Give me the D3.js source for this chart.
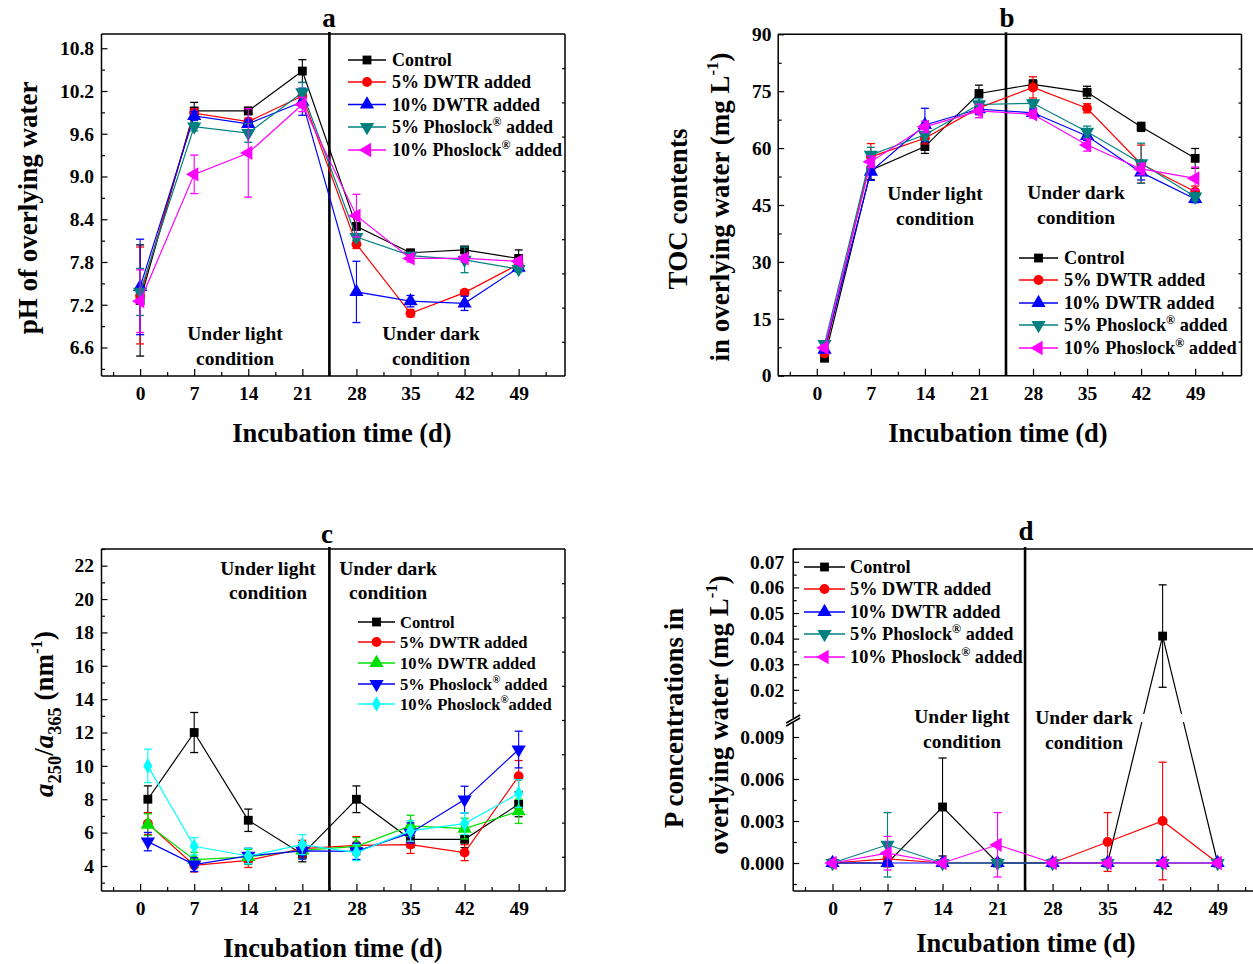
<!DOCTYPE html>
<html>
<head>
<meta charset="utf-8">
<script src="https://cdn.jsdelivr.net/npm/d3@7"></script>
<style>
  body { margin: 0; background: #fff; }
  svg { display: block; }
  text { font-family: "Liberation Serif", "Times New Roman", serif; font-weight: bold; fill: #000; white-space: pre; }
</style>
</head>
<body>
<svg id="fig" width="1253" height="964"></svg>
<script>
// ---------- shared sampling days and labels ----------
const days = [0, 7, 14, 21, 28, 35, 42, 49];
const daysFirstAt1 = [1, 7, 14, 21, 28, 35, 42, 49];
const xTickLabels = ["0", "7", "14", "21", "28", "35", "42", "49"];
const treatmentNames = ["Control", "5% DWTR added", "10% DWTR added", "5% Phoslock® added", "10% Phoslock® added"];
const treatmentNamesC = ["Control", "5% DWTR added", "10% DWTR added", "5% Phoslock® added", "10% Phoslock®added"];

// ---------- (a) pH of overlying water ----------
const phTicks = [6.6, 7.2, 7.8, 8.4, 9.0, 9.6, 10.2, 10.8];
const phControl = [7.26, 9.92, 9.92, 10.48, 8.30, 7.93, 7.97, 7.85];
const phControlErr = [0.78, 0.12, 0.05, 0.16, 0.05, 0.03, 0.03, 0.12];
const phDwtr5 = [7.33, 9.89, 9.77, 10.13, 8.05, 7.08, 7.37, 7.77];
const phDwtr5Err = [0.68, 0.06, 0.05, 0.06, 0.06, 0.05, 0.04, 0.04];
const phDwtr10 = [7.45, 9.85, 9.74, 10.05, 7.38, 7.25, 7.22, 7.72];
const phDwtr10Err = [0.67, 0.06, 0.05, 0.19, 0.43, 0.08, 0.10, 0.04];
const phPhos5 = [7.38, 9.70, 9.61, 10.18, 8.15, 7.89, 7.83, 7.70];
const phPhos5Err = [0.33, 0.06, 0.13, 0.14, 0.05, 0.04, 0.18, 0.04];
const phPhos10 = [7.25, 9.03, 9.33, 10.01, 8.45, 7.85, 7.85, 7.81];
const phPhos10Err = [0.44, 0.27, 0.62, 0.10, 0.30, 0.05, 0.05, 0.04];

// ---------- (b) TOC contents ----------
const tocTicks = [0, 15, 30, 45, 60, 75, 90];
const tocControl = [4.6, 54.2, 60.4, 74.4, 76.8, 74.7, 65.6, 57.3];
const tocControlErr = [0.6, 2.5, 1.8, 2.2, 1.2, 1.6, 1.2, 2.6];
const tocDwtr5 = [5.9, 57.7, 62.6, 70.6, 76.0, 70.5, 55.8, 48.5];
const tocDwtr5Err = [0.8, 3.5, 1.5, 1.5, 2.8, 1.2, 5.0, 1.5];
const tocDwtr10 = [6.9, 53.8, 66.1, 70.3, 69.3, 63.2, 53.6, 46.6];
const tocDwtr10Err = [0.8, 2.3, 4.4, 1.5, 1.0, 1.2, 2.0, 1.0];
const tocPhos5 = [8.3, 58.2, 63.5, 71.5, 71.8, 64.3, 56.0, 47.2];
const tocPhos5Err = [0.8, 2.0, 1.5, 1.5, 1.0, 1.5, 5.3, 1.0];
const tocPhos10 = [7.4, 56.4, 65.6, 69.8, 68.9, 60.8, 54.5, 52.0];
const tocPhos10Err = [0.8, 1.5, 1.5, 1.8, 1.0, 1.6, 1.5, 3.0];

// ---------- (c) a250/a365 ----------
const ratioTicks = [4, 6, 8, 10, 12, 14, 16, 18, 20, 22];
const ratioControl = [8.0, 12.0, 6.74, 4.7, 8.0, 5.6, 5.6, 7.7];
const ratioControlErr = [0.8, 1.2, 0.67, 0.45, 0.8, 0.5, 0.5, 0.75];
const ratioDwtr5 = [6.54, 4.04, 4.34, 5.04, 5.24, 5.28, 4.8, 9.38];
const ratioDwtr5Err = [0.65, 0.4, 0.43, 0.5, 0.52, 0.53, 0.48, 0.94];
const ratioDwtr10 = [6.48, 4.38, 4.54, 4.94, 5.18, 6.4, 6.24, 7.28];
const ratioDwtr10Err = [0.65, 0.44, 0.45, 0.5, 0.52, 0.64, 0.62, 0.73];
const ratioPhos5 = [5.46, 4.08, 4.6, 4.9, 4.88, 5.98, 7.98, 10.98];
const ratioPhos5Err = [0.55, 0.41, 0.46, 0.49, 0.49, 0.6, 0.8, 1.1];
const ratioPhos10 = [10.0, 5.18, 4.6, 5.28, 4.8, 6.1, 6.54, 8.34];
const ratioPhos10Err = [1.0, 0.52, 0.46, 0.6, 0.48, 0.61, 0.65, 0.83];

// ---------- (d) P concentrations ----------
const pTicksLow = [0.000, 0.003, 0.006, 0.009];
const pTicksHigh = [0.02, 0.03, 0.04, 0.05, 0.06, 0.07];
const pControl = [0, 0, 0.004, 0, 0, 0, 0.041, 0];
const pControlErr = [0, 0, 0.0035, 0, 0, 0, 0.020, 0];
const pDwtr5 = [0, 0.0003, 0, 0, 0, 0.0015, 0.003, 0];
const pDwtr5Err = [0, 0.0005, 0, 0, 0, 0.0021, 0.0042, 0];
const pDwtr10 = [0, 0, 0, 0, 0, 0, 0, 0];
const pDwtr10Err = [0, 0, 0, 0, 0, 0, 0, 0];
const pPhos5 = [0, 0.0013, 0, 0, 0, 0, 0, 0];
const pPhos5Err = [0, 0.0023, 0, 0, 0, 0, 0, 0];
const pPhos10 = [0, 0.0007, 0, 0.0013, 0, 0, 0, 0];
const pPhos10Err = [0, 0.0012, 0, 0.0023, 0, 0, 0, 0];

// ---------- styling ----------
const stylesABD = [
  { color: "#000000", shape: "square" },
  { color: "#ff0000", shape: "circle" },
  { color: "#0000ff", shape: "up" },
  { color: "#008080", shape: "down" },
  { color: "#ff00ff", shape: "left" }
];
const stylesC = [
  { color: "#000000", shape: "square" },
  { color: "#ff0000", shape: "circle" },
  { color: "#00e000", shape: "up" },
  { color: "#0000ff", shape: "down" },
  { color: "#00ffff", shape: "diamond" }
];

const svg = d3.select("#fig");
const TICK_FS = 19.5;

const symbolTypes = {
  square: d3.symbolSquare, circle: d3.symbolCircle, up: d3.symbolTriangle,
  down: d3.symbolTriangle, left: d3.symbolTriangle, diamond: d3.symbolDiamond
};
const symbolSizes = { square: 78, circle: 76, up: 88, down: 88, left: 88, diamond: 70 };
const symbolRot = { down: 180, left: -90 };

function marker(g, shape, cx, cy, color) {
  g.append("path")
    .attr("d", d3.symbol(symbolTypes[shape], symbolSizes[shape])())
    .attr("transform", `translate(${cx},${cy}) rotate(${symbolRot[shape] || 0})`)
    .attr("fill", color);
}

// text with a raised ® sign
function richText(t, name, fs) {
  const parts = name.split("®");
  t.append("tspan").text(parts[0]);
  if (parts.length > 1) {
    t.append("tspan").attr("font-size", fs * 0.66).attr("dy", -fs * 0.42).text("®");
    t.append("tspan").attr("dy", fs * 0.42).text(parts[1]);
  }
}

function styleAxis(sel, fs) {
  sel.select(".domain").remove();
  sel.selectAll("line").attr("stroke", "#000").attr("stroke-width", 1.2);
  sel.selectAll("text")
    .attr("font-family", '"Liberation Serif", "Times New Roman", serif')
    .attr("font-weight", "bold")
    .attr("font-size", fs)
    .attr("fill", "#000");
  sel.attr("font-size", null).attr("font-family", null);
}

function makePanel(o) {
  const g = svg.append("g");
  const x = d3.scaleLinear().domain([-5, 55]).range(o.xRange);
  const [L, R] = o.xRange;
  const yv = o.y;

  // bottom axis, ticks pointing inward
  const xa = g.append("g").attr("transform", `translate(0,${o.bottom})`)
    .call(d3.axisBottom(x).tickValues(days).tickFormat((d, i) => xTickLabels[i])
      .tickSize(-7).tickPadding(10.5));
  styleAxis(xa, TICK_FS);
  const xm = g.append("g").attr("transform", `translate(0,${o.bottom})`)
    .call(d3.axisBottom(x).tickValues(d3.range(-3.5, 55, 7)).tickFormat("").tickSize(-4));
  styleAxis(xm, TICK_FS);

  // left axis (one or two segments)
  o.yAxes.forEach(a => {
    const ya = g.append("g").attr("transform", `translate(${L},0)`)
      .call(d3.axisLeft(a.scale).tickValues(a.major).tickFormat(d3.format(a.fmt))
        .tickSize(-6).tickPadding(o.yPad));
    styleAxis(ya, TICK_FS);
    const ym = g.append("g").attr("transform", `translate(${L},0)`)
      .call(d3.axisLeft(a.scale).tickValues(a.minor).tickFormat("").tickSize(-3.5));
    styleAxis(ym, TICK_FS);
  });

  // right axis: ten equal divisions
  if (o.rightTicks) {
    const rs = d3.scaleLinear().domain([0, 10]).range([o.bottom, o.top]);
    const ra = g.append("g").attr("transform", `translate(${R},0)`)
      .call(d3.axisRight(rs).tickValues(d3.range(1, 10)).tickFormat("").tickSize(-3));
    styleAxis(ra, TICK_FS);
  }

  // frame
  const fr = g.append("g").attr("stroke", "#000").attr("stroke-width", 1.5).attr("fill", "none");
  fr.append("line").attr("x1", L).attr("x2", R).attr("y1", o.top).attr("y2", o.top);
  fr.append("line").attr("x1", L).attr("x2", R).attr("y1", o.bottom).attr("y2", o.bottom);
  fr.append("line").attr("x1", R).attr("x2", R).attr("y1", o.top).attr("y2", o.bottom);
  if (o.breakY) {
    const [b1, b2] = o.breakY;
    fr.append("line").attr("x1", L).attr("x2", L).attr("y1", o.top).attr("y2", b1);
    fr.append("line").attr("x1", L).attr("x2", L).attr("y1", b2).attr("y2", o.bottom);
    fr.append("line").attr("x1", L - 7).attr("x2", L + 7).attr("y1", b1 + 5).attr("y2", b1 - 3);
    fr.append("line").attr("x1", L - 7).attr("x2", L + 7).attr("y1", b2 + 3).attr("y2", b2 - 5);
  } else {
    fr.append("line").attr("x1", L).attr("x2", L).attr("y1", o.top).attr("y2", o.bottom);
  }

  // light / dark divider
  g.append("line").attr("x1", x(24.5)).attr("x2", x(24.5))
    .attr("y1", o.top - 2).attr("y2", o.bottom)
    .attr("stroke", "#000").attr("stroke-width", 2.6);

  // condition labels
  [o.light, o.dark].forEach((c, i) => {
    const first = i === 0 ? "Under light" : "Under dark";
    g.append("text").attr("x", c.x).attr("y", c.y1).attr("text-anchor", "middle")
      .attr("font-size", 19.5).text(first);
    g.append("text").attr("x", c.x).attr("y", c.y2).attr("text-anchor", "middle")
      .attr("font-size", 19.5).text("condition");
  });

  // series
  let clipId = null;
  if (o.clipBand) {
    clipId = "clip-" + o.title.t;
    const cp = svg.append("defs").append("clipPath").attr("id", clipId);
    cp.append("rect").attr("x", 0).attr("y", 0).attr("width", 1253).attr("height", o.clipBand[0]);
    cp.append("rect").attr("x", 0).attr("y", o.clipBand[1]).attr("width", 1253).attr("height", 964 - o.clipBand[1]);
  }
  o.series.forEach(s => {
    const pts = s.xs.map((d, i) => ({ d, v: s.ys[i], e: s.errs[i] }));
    const sg = g.append("g");
    const path = sg.append("path")
      .attr("d", d3.line().x(p => x(p.d)).y(p => yv(p.v))(pts))
      .attr("fill", "none").attr("stroke", s.color).attr("stroke-width", 1.2);
    if (clipId) path.attr("clip-path", `url(#${clipId})`);
    pts.forEach(p => {
      if (p.e > 0) {
        const cx = x(p.d), y1 = yv(p.v - p.e), y2 = yv(p.v + p.e);
        sg.append("line").attr("x1", cx).attr("x2", cx).attr("y1", y1).attr("y2", y2)
          .attr("stroke", s.color).attr("stroke-width", 1.1);
        [y1, y2].forEach(yy => sg.append("line").attr("x1", cx - 4).attr("x2", cx + 4)
          .attr("y1", yy).attr("y2", yy).attr("stroke", s.color).attr("stroke-width", 1.3));
      }
    });
    pts.forEach(p => marker(sg, s.shape, x(p.d), yv(p.v), s.color));
  });

  // legend
  const lg = o.legend;
  o.series.forEach((s, i) => {
    const yy = lg.rows[i];
    g.append("line").attr("x1", lg.x1).attr("x2", lg.x2).attr("y1", yy).attr("y2", yy)
      .attr("stroke", s.color).attr("stroke-width", 1.4);
    marker(g, s.shape, (lg.x1 + lg.x2) / 2, yy, s.color);
    const t = g.append("text").attr("x", lg.tx).attr("y", yy).attr("dy", "0.34em")
      .attr("font-size", lg.fs);
    richText(t, s.name, lg.fs);
  });

  // panel letter
  g.append("text").attr("x", o.title.x).attr("y", o.title.y).attr("text-anchor", "middle")
    .attr("font-size", 27).text(o.title.t);

  // x title
  g.append("text").attr("x", o.xTitle.x).attr("y", o.xTitle.y).attr("text-anchor", "middle")
    .attr("font-size", 26.5).text("Incubation time (d)");

  // y title
  o.yTitle(g);
}

function buildSeries(names, styles, xs, vals, errs) {
  return names.map((n, i) => ({ name: n, xs, ys: vals[i], errs: errs[i], color: styles[i].color, shape: styles[i].shape }));
}

function supTail(t, fs, main, sup, tail) {
  t.append("tspan").text(main);
  t.append("tspan").attr("font-size", fs * 0.62).attr("dy", -fs * 0.42).text(sup);
  t.append("tspan").attr("dy", fs * 0.42).text(tail);
}

// ---------- panel a ----------
const yA = d3.scaleLinear().domain([6.2, 11.0]).range([376, 34]);
makePanel({
  xRange: [101.5, 565], top: 34, bottom: 376, y: yA, yPad: 7.5, rightTicks: true,
  yAxes: [{ scale: yA, major: phTicks, minor: d3.range(6.3, 11.0, 0.6), fmt: ".1f" }],
  series: buildSeries(treatmentNames, stylesABD, days,
    [phControl, phDwtr5, phDwtr10, phPhos5, phPhos10],
    [phControlErr, phDwtr5Err, phDwtr10Err, phPhos5Err, phPhos10Err]),
  legend: { x1: 348, x2: 386, tx: 392, rows: [60, 82, 104.5, 127, 150], fs: 18 },
  light: { x: 235, y1: 340, y2: 365 },
  dark: { x: 431, y1: 340, y2: 365 },
  title: { t: "a", x: 329, y: 27 },
  xTitle: { x: 342, y: 442 },
  yTitle: g => {
    g.append("text").attr("transform", "translate(37,208) rotate(-90)")
      .attr("text-anchor", "middle").attr("font-size", 27).text("pH of overlying water");
  }
});

// ---------- panel b ----------
const yB = d3.scaleLinear().domain([0, 90]).range([375.7, 34.3]);
makePanel({
  xRange: [778.2, 1241.5], top: 34.3, bottom: 375.7, y: yB, yPad: 6.6, rightTicks: true,
  yAxes: [{ scale: yB, major: tocTicks, minor: d3.range(7.5, 90, 15), fmt: "d" }],
  series: buildSeries(treatmentNames, stylesABD, daysFirstAt1,
    [tocControl, tocDwtr5, tocDwtr10, tocPhos5, tocPhos10],
    [tocControlErr, tocDwtr5Err, tocDwtr10Err, tocPhos5Err, tocPhos10Err]),
  legend: { x1: 1019, x2: 1058, tx: 1064, rows: [258, 280, 303, 325, 348], fs: 18.3 },
  light: { x: 935, y1: 200, y2: 225 },
  dark: { x: 1076, y1: 199, y2: 224 },
  title: { t: "b", x: 1007, y: 27 },
  xTitle: { x: 998, y: 442 },
  yTitle: g => {
    g.append("text").attr("transform", "translate(687,209) rotate(-90)")
      .attr("text-anchor", "middle").attr("font-size", 27).text("TOC contents");
    const t = g.append("text").attr("transform", "translate(729,207) rotate(-90)")
      .attr("text-anchor", "middle").attr("font-size", 27);
    supTail(t, 27, "in overlying water (mg L", "-1", ")");
  }
});

// ---------- panel c ----------
const yC = d3.scaleLinear().domain([2.5, 23]).range([891, 549]);
makePanel({
  xRange: [101.5, 565], top: 549, bottom: 891, y: yC, yPad: 7.5, rightTicks: true,
  yAxes: [{ scale: yC, major: ratioTicks, minor: d3.range(3, 24, 2), fmt: "d" }],
  series: buildSeries(treatmentNamesC, stylesC, daysFirstAt1,
    [ratioControl, ratioDwtr5, ratioDwtr10, ratioPhos5, ratioPhos10],
    [ratioControlErr, ratioDwtr5Err, ratioDwtr10Err, ratioPhos5Err, ratioPhos10Err]),
  legend: { x1: 358, x2: 395, tx: 400, rows: [622, 642, 663, 684, 704], fs: 16.5 },
  light: { x: 268, y1: 575, y2: 599 },
  dark: { x: 388, y1: 575, y2: 599 },
  title: { t: "c", x: 327, y: 543 },
  xTitle: { x: 333, y: 957 },
  yTitle: g => {
    const fs = 27;
    const t = g.append("text").attr("transform", "translate(53,714) rotate(-90)")
      .attr("text-anchor", "middle").attr("font-size", fs);
    t.append("tspan").attr("font-style", "italic").text("a");
    t.append("tspan").attr("font-size", fs * 0.68).attr("dy", fs * 0.28).text("250");
    t.append("tspan").attr("dy", -fs * 0.28).text("/");
    t.append("tspan").attr("font-style", "italic").text("a");
    t.append("tspan").attr("font-size", fs * 0.68).attr("dy", fs * 0.28).text("365");
    t.append("tspan").attr("dy", -fs * 0.28).text(" (nm");
    t.append("tspan").attr("font-size", fs * 0.62).attr("dy", -fs * 0.42).text("-1");
    t.append("tspan").attr("dy", fs * 0.42).text(")");
  }
});

// ---------- panel d (broken y axis) ----------
const yDLow = d3.scaleLinear().domain([-0.002, 0.010]).range([891, 723]);
const yDHigh = d3.scaleLinear().domain([0.009, 0.075]).range([718, 549]);
const yD = v => (v > 0.0095 ? yDHigh(v) : yDLow(v));
makePanel({
  xRange: [793.2, 1264.8], top: 549, bottom: 891, y: yD, yPad: 9, rightTicks: false,
  breakY: [718, 723], clipBand: [714, 722],
  yAxes: [
    { scale: yDLow, major: pTicksLow, minor: [-0.0015, 0.0015, 0.0045, 0.0075], fmt: ".3f" },
    { scale: yDHigh, major: pTicksHigh, minor: d3.range(0.015, 0.076, 0.01), fmt: ".2f" }
  ],
  series: buildSeries(treatmentNames, stylesABD, days,
    [pControl, pDwtr5, pDwtr10, pPhos5, pPhos10],
    [pControlErr, pDwtr5Err, pDwtr10Err, pPhos5Err, pPhos10Err]),
  legend: { x1: 804, x2: 845, tx: 850, rows: [567, 589, 612, 634, 657], fs: 18.3 },
  light: { x: 962, y1: 723, y2: 748 },
  dark: { x: 1084, y1: 724, y2: 749 },
  title: { t: "d", x: 1026, y: 540 },
  xTitle: { x: 1026, y: 952 },
  yTitle: g => {
    g.append("text").attr("transform", "translate(683,718) rotate(-90)")
      .attr("text-anchor", "middle").attr("font-size", 27).text("P concentrations in");
    const t = g.append("text").attr("transform", "translate(728,715) rotate(-90)")
      .attr("text-anchor", "middle").attr("font-size", 27);
    supTail(t, 27, "overlying water (mg L", "-1", ")");
  }
});
</script>
</body>
</html>
